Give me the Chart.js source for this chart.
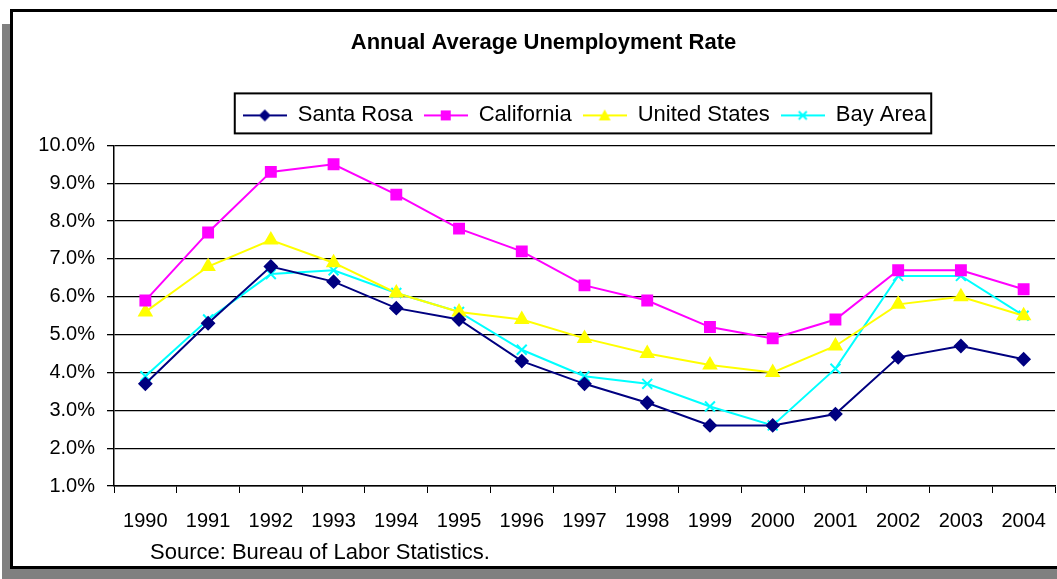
<!DOCTYPE html>
<html>
<head>
<meta charset="utf-8">
<script src="https://cdn.jsdelivr.net/npm/chart.js@4.4.0/dist/chart.umd.min.js"></script>
<style>
  html, body { margin: 0; padding: 0; background: #fff; overflow: hidden; }
  #shadow { position: absolute; left: 2px; top: 24px; width: 1100px; height: 600px; background: #808080; }
  #frame { position: absolute; left: 10px; top: 9px; width: 1100px; height: 554px; background: #fff; border: 3px solid #000; }
  #wrap { position: absolute; left: 0; top: 0; width: 1057px; height: 579px; }
  #source { position: absolute; left: 150px; top: 539px; font: 22px 'Liberation Sans', Arial, sans-serif; line-height: 26px; color: #000; }
</style>
</head>
<body>
<div id="shadow"></div>
<div id="frame"></div>
<div id="wrap"><canvas id="unemploymentChart" width="1057" height="579"></canvas></div>
<div id="source">Source: Bureau of Labor Statistics.</div>
<script>
// values (percent)
var years = ['1990', '1991', '1992', '1993', '1994', '1995', '1996', '1997', '1998', '1999', '2000', '2001', '2002', '2003', '2004'];
var santaRosa = [3.7, 5.3, 6.8, 6.4, 5.7, 5.4, 4.3, 3.7, 3.2, 2.6, 2.6, 2.9, 4.4, 4.7, 4.35];
var california = [5.9, 7.7, 9.3, 9.5, 8.7, 7.8, 7.2, 6.3, 5.9, 5.2, 4.9, 5.4, 6.7, 6.7, 6.2];
var unitedStates = [5.6, 6.8, 7.5, 6.9, 6.1, 5.6, 5.4, 4.9, 4.5, 4.2, 4.0, 4.7, 5.8, 6.0, 5.5];
var bayArea = [3.9, 5.4, 6.6, 6.7, 6.1, 5.6, 4.6, 3.9, 3.7, 3.1, 2.6, 4.1, 6.55, 6.55, 5.5];
var yMin = 1, yMax = 10, yStep = 1;

Chart.defaults.font.family = "'Liberation Sans', Arial, sans-serif";
Chart.defaults.color = '#000';

// little line + marker pictures for the legend (Excel style)
function legendIcon(color, marker) {
    var c = document.createElement('canvas');
    c.width = 44; c.height = 16;
    var g = c.getContext('2d');
    g.strokeStyle = color; g.fillStyle = color; g.lineWidth = 2;
    g.beginPath(); g.moveTo(0, 8); g.lineTo(44, 8); g.stroke();
    g.beginPath();
    if (marker === 'diamond') {
        g.moveTo(22, 2); g.lineTo(28, 8); g.lineTo(22, 14); g.lineTo(16, 8); g.closePath(); g.fill();
    } else if (marker === 'square') {
        g.fillRect(17, 3, 10, 10);
    } else if (marker === 'triangle') {
        g.moveTo(22, 2); g.lineTo(28, 13); g.lineTo(16, 13); g.closePath(); g.fill();
    } else {
        g.moveTo(18, 4); g.lineTo(26, 12); g.moveTo(26, 4); g.lineTo(18, 12); g.stroke();
    }
    return c;
}
var icons = [
    legendIcon('#000080', 'diamond'),
    legendIcon('#FF00FF', 'square'),
    legendIcon('#FFFF00', 'triangle'),
    legendIcon('#00FFFF', 'cross')
];

// box round the legend
var legendBox = {
    id: 'legendBox',
    afterDraw: function (chart) {
        var lg = chart.legend, hb = lg.legendHitBoxes;
        if (!hb || !hb.length) return;
        var last = hb[hb.length - 1];
        var left = hb[0].left - 8, right = last.left + last.width + 5;
        var ctx = chart.ctx;
        ctx.save();
        ctx.strokeStyle = '#000';
        ctx.lineWidth = 2;
        ctx.strokeRect(left, lg.top, right - left, 40);
        ctx.restore();
    }
};

var ctx = document.getElementById('unemploymentChart').getContext('2d');
var chart = new Chart(ctx, {
    type: 'line',
    data: {
        labels: years,
        datasets: [{
            label: 'Santa Rosa',
            data: santaRosa,
            borderColor: '#000080',
            backgroundColor: '#000080',
            pointStyle: 'rectRot',
            pointRadius: 6,
            borderWidth: 2
        }, {
            label: 'California',
            data: california,
            borderColor: '#FF00FF',
            backgroundColor: '#FF00FF',
            pointStyle: 'rect',
            pointRadius: 7,
            borderWidth: 2
        }, {
            label: 'United States',
            data: unitedStates,
            borderColor: '#FFFF00',
            backgroundColor: '#FFFF00',
            pointStyle: 'triangle',
            pointRadius: 7,
            borderWidth: 2
        }, {
            label: 'Bay Area',
            data: bayArea,
            borderColor: '#00FFFF',
            backgroundColor: '#00FFFF',
            pointStyle: 'crossRot',
            pointRadius: 7,
            pointBorderWidth: 2,
            borderWidth: 2
        }]
    },
    options: {
        responsive: false,
        animation: false,
        layout: { autoPadding: false, padding: { left: 32, right: 2, top: 0, bottom: 0 } },
        plugins: {
            title: {
                display: true,
                text: 'Annual Average Unemployment Rate',
                font: { size: 22, weight: 'bold' },
                padding: { top: 30, bottom: 37 }
            },
            legend: {
                display: true,
                position: 'top',
                fullSize: false,
                labels: {
                    usePointStyle: true,
                    pointStyleWidth: 44,
                    padding: 11,
                    font: { size: 22 },
                    color: '#000',
                    generateLabels: function (chart) {
                        var items = Chart.defaults.plugins.legend.labels.generateLabels(chart);
                        items.forEach(function (it, i) { it.pointStyle = icons[i]; });
                        return items;
                    }
                }
            },
            tooltip: { enabled: false }
        },
        scales: {
            x: {
                offset: true,
                grid: {
                    offset: true,
                    drawOnChartArea: false,
                    drawTicks: true,
                    tickLength: 7,
                    tickColor: '#000',
                    tickWidth: 1
                },
                border: { color: '#000', width: 1.5 },
                // tall line height pushes the year labels down without widening the side padding
                ticks: { font: { size: 20, lineHeight: '44px' }, padding: 6, maxRotation: 0, autoSkip: false },
                afterFit: function (scale) { scale.height = 93; }
            },
            spacer: {
                type: 'category',
                position: 'top',
                display: true,
                grid: { display: false },
                border: { display: false },
                ticks: { display: false },
                afterFit: function (scale) { scale.height = 9; }
            },
            y: {
                min: yMin,
                max: yMax,
                grid: {
                    color: '#000',
                    lineWidth: 1.3,
                    drawTicks: true,
                    tickLength: 7,
                    tickColor: '#000'
                },
                border: { color: '#000', width: 1.5 },
                ticks: {
                    stepSize: yStep,
                    padding: 12,
                    font: { size: 20 },
                    callback: function (v) { return v.toFixed(1) + '%'; }
                },
                afterFit: function (scale) { scale.width = 82; }
            }
        }
    },
    plugins: [legendBox]
});
</script>
</body>
</html>
